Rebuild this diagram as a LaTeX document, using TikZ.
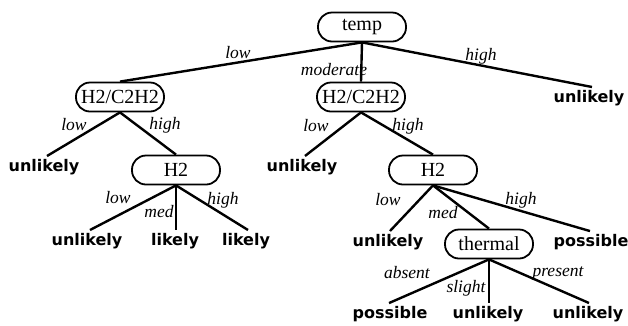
\documentclass[tikz,border=0pt]{standalone}
\usepackage{fontspec}
\setmainfont{Liberation Serif}
\newfontfamily\leaffont{DejaVu Sans}
\begin{document}
\begin{tikzpicture}[x=1pt,y=-1pt,
  test/.style={draw,line width=1.8pt,rounded corners=14pt,minimum width=88pt,
    minimum height=29pt,inner sep=0pt,font=\fontsize{20}{20}\selectfont},
  leaf/.style={inner sep=3pt,font=\leaffont\bfseries\fontsize{16}{16}\selectfont},
  lab/.style={inner sep=0pt,font=\fontsize{17.5}{17.5}\selectfont\itshape},
  branch/.style={line width=2.4pt}]
\useasboundingbox[fill=white] (0,0) rectangle (628,325);

% decision nodes
\node[test] (temp) at (362,27) {temp};
\node[test] (hcA) at (120,97) {H2/C2H2};
\node[test] (hcB) at (361,97) {H2/C2H2};
\node[test] (hA) at (176,170) {H2};
\node[test] (hB) at (433,170) {H2};
\node[test] (th) at (489,244) {thermal};

% outcomes
\node[leaf] (r1) at (589,98) {unlikely};
\node[leaf] (a1) at (44,167) {unlikely};
\node[leaf] (a2) at (87,241) {unlikely};
\node[leaf] (a3) at (175,241) {likely};
\node[leaf] (a4) at (246,241) {likely};
\node[leaf] (b1) at (302,167) {unlikely};
\node[leaf] (b2) at (388,242) {unlikely};
\node[leaf] (b3) at (591,242) {possible};
\node[leaf] (c1) at (390,314) {possible};
\node[leaf] (c2) at (488,314) {unlikely};
\node[leaf] (c3) at (588,314) {unlikely};

% branches
\draw[branch] (temp.south) -- (hcA.north);
\draw[branch] (temp.south) -- (hcB.north);
\draw[branch] (temp.south) -- ([xshift=3pt]r1.north);
\draw[branch] (hcA.south) -- ([xshift=3pt]a1.north);
\draw[branch] (hcA.south) -- (hA.north);
\draw[branch] (hA.south) -- ([xshift=3pt]a2.north);
\draw[branch] (hA.south) -- ([xshift=1pt]a3.north);
\draw[branch] (hA.south) -- ([xshift=2pt]a4.north);
\draw[branch] (hcB.south) -- ([xshift=3pt]b1.north);
\draw[branch] (hcB.south) -- (hB.north);
\draw[branch] (hB.south) -- ([xshift=2pt]b2.north);
\draw[branch] (hB.south) -- (th.north);
\draw[branch] (hB.south) -- ([xshift=-1pt]b3.north);
\draw[branch] (th.south) -- ([xshift=-1pt]c1.north);
\draw[branch] (th.south) -- ([xshift=1pt]c2.north);
\draw[branch] (th.south) -- ([xshift=1pt]c3.north);

% branch labels
\node[lab] (l1) at (238,53) {low};
\node[lab] (l2) at (334,70) {moderate};
\node[lab] (l3) at (481,56) {high};
\node[lab] (l4) at (74,125) {low};
\node[lab] (l5) at (165,125) {high};
\node[lab] (l6) at (316,126) {low};
\node[lab] (l7) at (408,126) {high};
\node[lab] (l8) at (118,198) {low};
\node[lab] (l9) at (159,212) {med};
\node[lab] (l10) at (223,200) {high};
\node[lab] (l11) at (388,200) {low};
\node[lab] (l12) at (443,213) {med};
\node[lab] (l13) at (521,200) {high};
\node[lab] (l14) at (407,273) {absent};
\node[lab] (l15) at (466,288) {slight};
\node[lab] (l16) at (558,273) {present};
\end{tikzpicture}
\end{document}
